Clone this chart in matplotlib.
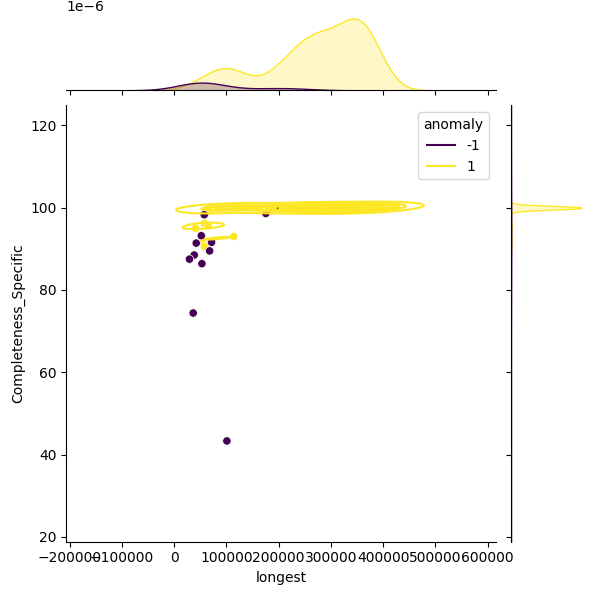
import matplotlib

matplotlib.use("Agg")
import matplotlib.pyplot as plt
import pandas as pd
import seaborn as sns

# anomaly == 1 (normal records) below the 100 % row
off_row_longest = [41000, 58000, 65000, 54000, 58000, 114000, 68000, 83000, 102500]
off_row_completeness = [95.0, 96.2, 95.6, 92.2, 90.6, 93.0, 99.2, 99.9, 99.4]

# anomaly == 1 on the 100 % row: distinct positions and how many records share each
row_longest = [
    67000, 83000, 94000, 104000, 113000, 123000, 142000, 162000, 181000,
    194000, 210000, 217000, 233000, 250000, 265000, 281000, 300000, 319000,
    335000, 348000, 358000, 369000, 383000,
]
row_counts = [
    1, 1, 4, 4, 3, 3, 1, 1, 2,
    3, 5, 5, 7, 11, 12, 12, 12, 11,
    11, 11, 14, 14, 12,
]

full_row_longest = [x for x, n in zip(row_longest, row_counts) for _ in range(n)]
normal_longest = off_row_longest + full_row_longest
normal_completeness = off_row_completeness + [100.0] * len(full_row_longest)

# anomaly == -1 (flagged records)
outlier_longest = [
    57700, 204000, 241000, 175500, 52000, 42300, 71700,
    68000, 38500, 29400, 53200, 36500, 101000,
]
outlier_completeness = [
    98.3, 100, 100, 98.6, 93.2, 91.4, 91.6,
    89.5, 88.5, 87.5, 86.4, 74.4, 43.3,
]

df = pd.DataFrame(
    {
        "longest": normal_longest + outlier_longest,
        "Completeness_Specific": normal_completeness + outlier_completeness,
        "anomaly": [1] * len(normal_longest) + [-1] * len(outlier_longest),
    }
)

g = sns.jointplot(
    data=df,
    x="longest",
    y="Completeness_Specific",
    hue="anomaly",
    kind="kde",
    palette="viridis",
    height=6,
    marginal_kws=dict(fill=True),
)
g.plot_joint(sns.scatterplot, legend=False)

g.ax_joint.set_xlim(-206000, 616000)
g.ax_joint.set_ylim(18.8, 124.9)

plt.savefig("out.png", dpi=100)
plt.close()
